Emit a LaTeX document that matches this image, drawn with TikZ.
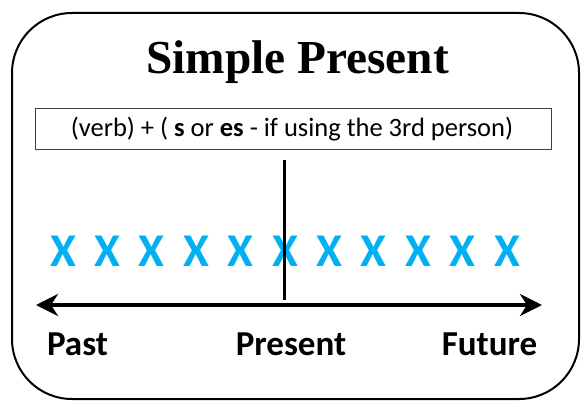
\documentclass[tikz,border=0pt]{standalone}
\usepackage{fontspec}
\setmainfont{Carlito}
\newfontfamily\titlefont{Liberation Serif}
\usetikzlibrary{arrows.meta}
\definecolor{xcyan}{RGB}{0,176,240}
\begin{document}
\begin{tikzpicture}[x=1pt,y=-1pt,
  xmark/.style={text=xcyan,font=\fontsize{47}{47}\selectfont\bfseries,inner sep=0pt,anchor=base},
  timelabel/.style={font=\fontsize{35}{35}\selectfont\bfseries,inner sep=0pt,anchor=base},
  outerbox/.style={draw=black,line width=2pt,rounded corners=60pt},
  formulabox/.style={draw=black!75,line width=0.9pt},
  timetip/.tip={Stealth[length=22pt,width=22pt,inset=7pt]}]
\useasboundingbox (0,0) rectangle (581,401);
\draw[outerbox] (12,13) rectangle (579,399);
\node[inner sep=0pt,anchor=base,font=\titlefont\fontsize{47.3}{47.3}\selectfont\bfseries] (title) at (297.5,74) {Simple Present};
\coordinate (fbA) at (35,108);
\coordinate (fbB) at (551,149);
\draw[formulabox] (fbA) rectangle (fbB);
\node[inner sep=0pt,anchor=base,font=\fontsize{26.5}{26.5}\selectfont] (formula) at (292,137) {(verb) + ( \textbf{s} or \textbf{es} - if using the 3rd person)};
\foreach \i in {0,...,10} {
  \node[xmark] (x\i) at ({63+44.4*\i},266) {X};
}
\coordinate (pastend) at (36,305);
\coordinate (futureend) at (542,305);
\draw[line width=4.5pt,timetip-timetip] (pastend) -- (futureend);
\coordinate (nowtop) at (284.5,160);
\coordinate (nowbot) at (284.5,300);
\draw[line width=3pt] (nowtop) -- (nowbot);
\node[timelabel] (past) at (77.5,355) {Past};
\node[timelabel] (present) at (291,355) {Present};
\node[timelabel] (future) at (489.5,355) {Future};
\end{tikzpicture}
\end{document}
